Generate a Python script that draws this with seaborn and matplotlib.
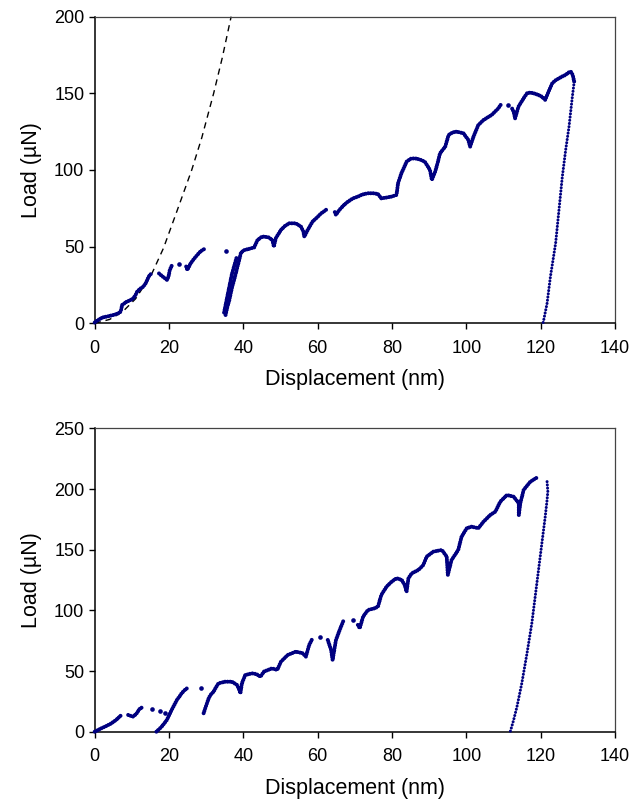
import numpy as np
import pandas as pd
import matplotlib
matplotlib.use("Agg")
import matplotlib.pyplot as plt
import seaborn as sns

# ---------------- data ----------------
# Top panel: loading trace, segment id per point
top_x = [0.0, 0.5, 1.5, 2.3, 3.5, 5.0, 6.2, 7.0, 7.2, 7.4, 8.0, 8.6, 9.5, 10.4, 11.0, 11.4, 12.2, 13.1, 13.8, 14.5, 15.4,
         17.3, 18.0, 18.8, 19.5, 19.9, 20.2, 20.8,
         24.6, 24.9, 25.3, 25.8, 26.7, 27.6, 28.5, 29.8,
         35.2, 35.7, 36.2, 36.6, 37.0, 37.5, 38.0, 38.4, 38.9, 39.3, 40.0, 40.6, 41.5, 42.9, 43.8, 45.0, 45.6, 46.8,
         47.8, 48.2, 48.7, 50.1, 51.2, 52.3, 54.1, 55.5, 56.1, 56.4, 57.3, 58.6, 59.8, 60.9, 62.0, 62.7,
         34.8, 35.3, 35.8, 36.4, 36.9, 37.6, 38.3,
         64.6, 64.9, 65.8, 67.0, 68.1, 69.5, 70.8, 72.0, 73.5, 75.0, 76.2, 77.1, 78.5, 79.8, 81.2, 81.6, 82.5, 83.2,
         83.9, 85.0, 86.1, 87.5, 88.8, 90.2, 90.7, 91.6, 92.3, 92.9, 94.3, 95.2, 96.3, 97.4, 99.2, 100.5, 101.0,
         101.9, 103.2, 104.6, 106.8, 108.6, 109.5,
         112.3, 112.7, 113.1, 114.0, 115.4, 116.3, 117.2, 118.1, 119.3, 120.3, 121.2, 122.1, 123.1, 124.0, 124.9,
         125.8, 126.7, 127.4, 128.1, 128.6, 129.0]
top_y = [0.5, 1.5, 3.0, 3.9, 4.5, 5.4, 6.3, 7.6, 10.0, 12.0, 13.0, 14.1, 15.0, 16.3, 18.5, 20.6, 22.5, 23.9, 26.5, 30.4, 33.0,
         32.5, 31.0, 29.5, 28.2, 31.0, 34.8, 38.0,
         37.0, 34.8, 36.5, 39.1, 42.0, 44.6, 47.0, 48.9,
         5.4, 10.8, 15.0, 19.6, 24.0, 28.2, 33.0, 36.9, 41.5, 45.7, 47.5, 48.0, 48.5, 49.5, 54.3, 56.5, 56.5, 56.0,
         54.3, 50.0, 55.4, 60.9, 63.5, 65.2, 65.2, 63.0, 60.0, 56.5, 60.9, 66.3, 69.0, 71.7, 73.5, 75.0,
         7.0, 13.0, 19.0, 26.0, 32.0, 38.0, 44.0,
         72.5, 70.7, 73.9, 77.0, 79.3, 81.5, 82.6, 84.0, 84.8, 84.8, 84.3, 81.5, 82.0, 82.6, 83.7, 91.3, 97.8, 101.5,
         105.4, 107.3, 107.6, 106.8, 105.4, 100.0, 93.5, 98.9, 105.0, 110.9, 115.2, 122.8, 124.5, 125.0, 123.9, 119.6, 115.2,
         121.7, 129.3, 132.6, 135.9, 140.2, 143.5,
         140.0, 138.0, 133.7, 141.3, 146.8, 150.0, 150.5, 150.0, 149.0, 147.8, 145.7, 151.1, 156.6, 158.5, 159.8,
         161.0, 162.0, 163.5, 164.1, 162.0, 157.6]
top_seg = ([1] * 21 + [2] * 7 + [3] * 8 + [4] * 34 + [5] * 7 + [6] * 41 + [7] * 21)

# Top panel: unloading trace
top_unload_x = [129.0, 128.5, 127.6, 126.7, 125.8, 124.9, 124.0, 122.6, 121.7, 120.8, 120.6]
top_unload_y = [157.6, 147.8, 128.2, 113.0, 95.6, 73.9, 52.2, 30.4, 13.0, 2.2, 0.0]

# Top panel: isolated points
top_iso_x = [22.6, 35.2, 111.3]
top_iso_y = [38.7, 47.2, 142.4]

# Top panel: dashed elastic (Hertzian) curve
fit_x = [0.0, 4.0, 7.5, 11.0, 15.3, 18.5, 22.1, 26.1, 28.8, 32.0, 34.3, 36.7]
fit_y = [0.0, 2.5, 7.5, 16.0, 32.0, 49.0, 73.0, 100.0, 121.0, 150.0, 173.0, 200.0]

# Bottom panel: loading trace
bot_x = [0.0, 0.8, 1.8, 3.0, 4.5, 5.8, 7.2,
         9.0, 9.7, 10.4, 11.3, 11.8, 12.2, 12.8,
         16.6, 17.3, 18.0, 18.7, 19.4, 20.0, 20.7, 21.4, 22.1, 22.8, 23.4, 24.1, 24.8,
         29.3, 29.7, 30.2, 30.6, 31.1, 32.0, 32.6, 33.3, 35.1, 36.9, 38.3, 38.8, 39.2, 39.6, 40.5, 42.3, 43.5, 44.6,
         45.5, 47.7, 49.1, 50.1, 51.9, 54.1, 56.0, 56.8, 57.7, 58.6,
         62.7, 63.6, 64.0, 64.9, 65.9, 67.0,
         70.8, 71.3, 72.2, 73.5, 75.3, 76.2, 77.1, 78.5, 79.9, 81.2, 82.6, 83.4, 83.9, 84.4, 85.3, 87.1, 88.4, 89.3,
         91.1, 93.4, 94.7, 95.0, 96.0, 97.8, 98.7, 100.1, 101.4, 103.2, 104.6, 106.4, 107.8, 109.1, 110.9, 112.7,
         114.1, 114.1, 114.5, 115.4, 117.2, 119.0]
bot_y = [0.0, 1.2, 2.8, 4.5, 6.9, 9.8, 13.8,
         13.8, 13.0, 12.4, 15.2, 17.5, 19.3, 20.0,
         0.0, 2.0, 4.1, 6.8, 9.6, 13.5, 17.9, 22.0, 26.1, 29.0, 31.7, 34.0, 35.7,
         15.2, 19.0, 23.4, 27.0, 30.2, 33.0, 36.5, 39.9, 41.2, 41.2, 38.5, 35.0, 31.7, 39.9, 46.7, 48.1, 47.5, 45.3,
         49.5, 52.2, 50.9, 57.7, 63.2, 66.0, 64.6, 61.8, 71.5, 77.0,
         75.6, 67.3, 59.1, 75.6, 83.8, 92.1,
         88.0, 85.2, 94.8, 100.3, 101.7, 103.0, 112.7, 119.5, 123.7, 126.5, 125.1, 120.9, 115.4, 126.5, 130.6, 133.3,
         137.4, 144.3, 148.4, 149.8, 144.3, 129.2, 141.5, 149.8, 160.8, 167.7, 169.0, 167.7, 173.1, 178.6, 181.4,
         189.6, 195.1, 193.7, 188.3, 178.6, 188.3, 199.3, 206.1, 209.5]
bot_seg = ([1] * 7 + [2] * 7 + [3] * 13 + [4] * 28 + [5] * 6 + [6] * 40)

# Bottom panel: unloading trace
bot_unload_x = [121.7, 121.9, 121.7, 121.2, 120.7, 120.3, 119.4, 118.5, 117.6, 116.3, 114.9, 113.6, 112.7, 111.8]
bot_unload_y = [206.1, 198.0, 191.0, 177.2, 165.0, 155.3, 133.3, 111.3, 89.4, 64.6, 39.9, 20.6, 9.6, 0.0]

# Bottom panel: isolated points
bot_iso_x = [15.3, 17.6, 18.9, 28.5, 60.7, 69.5]
bot_iso_y = [19.0, 17.1, 15.7, 35.7, 78.4, 92.1]

x_ticks = [0, 20, 40, 60, 80, 100, 120, 140]
top_y_ticks = [0, 50, 100, 150, 200]
bot_y_ticks = [0, 50, 100, 150, 200, 250]
x_label = "Displacement (nm)"
y_label = "Load (\u00b5N)"

# ---------------- style ----------------
sns.set_theme(style="white")
plt.rcParams["font.family"] = ["Liberation Sans", "DejaVu Sans"]
plt.rcParams["text.color"] = "black"
plt.rcParams["axes.labelcolor"] = "black"
plt.rcParams["xtick.color"] = "black"
plt.rcParams["ytick.color"] = "black"
NAVY = "#000080"

fig = plt.figure(figsize=(6.43, 8.0), dpi=100)
ax_top = fig.add_axes([0.1473, 0.5959, 0.8093, 0.3833])
ax_bot = fig.add_axes([0.1473, 0.0854, 0.8093, 0.3791])


def draw_panel(ax, x, y, seg, ux, uy, ix, iy):
    df = pd.DataFrame({"x": x, "y": y, "seg": seg})
    sns.lineplot(data=df, x="x", y="y", units="seg", estimator=None, sort=False,
                 color=NAVY, lw=2.9, linestyle=(0, (0.01, 0.62)),
                 dash_capstyle="round", ax=ax, zorder=3)
    du = pd.DataFrame({"x": ux, "y": uy})
    sns.lineplot(data=du, x="x", y="y", estimator=None, sort=False,
                 color=NAVY, lw=2.2, linestyle=(0, (0.01, 1.05)),
                 dash_capstyle="round", ax=ax, zorder=3)
    di = pd.DataFrame({"x": ix, "y": iy})
    sns.scatterplot(data=di, x="x", y="y", color=NAVY, s=11, linewidth=0, ax=ax, zorder=3)


def style_axes(ax, yticks):
    ax.set_xlim(0, 140)
    ax.set_ylim(yticks[0], yticks[-1])
    ax.set_xticks(x_ticks)
    ax.set_yticks(yticks)
    ax.set_xlabel(x_label, fontsize=15.5, labelpad=9, color="black")
    ax.set_ylabel(y_label, fontsize=15.5, labelpad=9, color="black")
    ax.tick_params(axis="both", which="major", direction="out", length=4,
                   width=1.0, color="black", labelcolor="black", labelsize=13,
                   bottom=True, left=True)
    ax.tick_params(axis="x", pad=8)
    ax.tick_params(axis="y", pad=3.5)
    for side in ["left", "bottom"]:
        ax.spines[side].set_color("black")
        ax.spines[side].set_linewidth(1.1)
    for side in ["top", "right"]:
        ax.spines[side].set_color("#444444")
        ax.spines[side].set_linewidth(0.9)
    ax.grid(False)


draw_panel(ax_top, top_x, top_y, top_seg, top_unload_x, top_unload_y, top_iso_x, top_iso_y)
fd = pd.DataFrame({"x": fit_x, "y": fit_y})
sns.lineplot(data=fd, x="x", y="y", estimator=None, sort=False, color="black", lw=1.0,
             linestyle=(0, (4.5, 3.5)), ax=ax_top, zorder=2)
style_axes(ax_top, top_y_ticks)

draw_panel(ax_bot, bot_x, bot_y, bot_seg, bot_unload_x, bot_unload_y, bot_iso_x, bot_iso_y)
style_axes(ax_bot, bot_y_ticks)

for ax in (ax_top, ax_bot):
    for coll in ax.collections:
        coll.set_clip_on(False)
    for ln in ax.lines:
        ln.set_clip_on(False)

fig.savefig("out.png", dpi=100)
